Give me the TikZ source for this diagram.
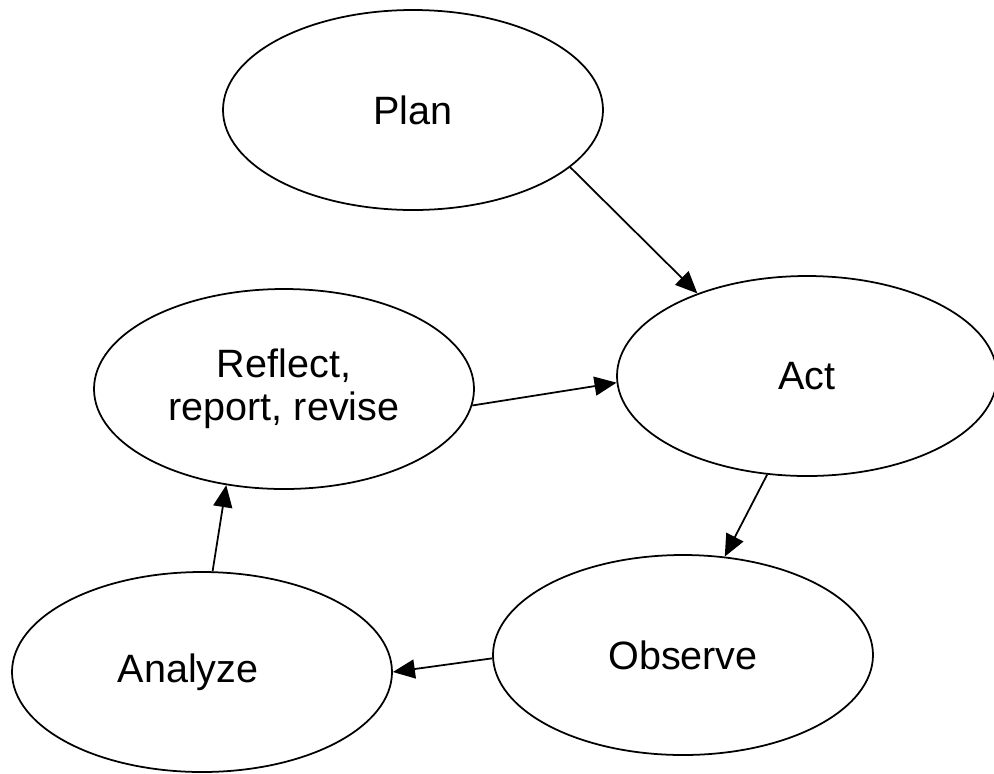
\documentclass[tikz,border=0pt]{standalone}
\usepackage{fontspec}
\setmainfont{Liberation Sans}
\usepackage{tikz}
\usetikzlibrary{arrows.meta,shapes.geometric}
\usetikzlibrary{positioning}
\tikzset{
    stage/.style={
           ellipse,
           draw=black, line width=1pt,
           minimum width=7.6cm,
           minimum height=4cm,
           inner sep=2pt,
           text centered,
           font=\fontsize{22.5}{24.5}\selectfont,
           text=black
           },
}

\begin{document}
\begin{tikzpicture}[->,>={Triangle[length=0.44cm,width=0.38cm]},line width=1pt]

\useasboundingbox (0,0) rectangle (19.88,-15.46);

\node[stage] (PLAN) at (8.26,-2.2) {Plan};

 % stage: doing it
\node[stage, yshift=-5.32cm, right of=PLAN, node distance=7.88cm, anchor=center] (ACT) {Act};

 % stage: looking back
\node[stage, yshift=-5.58cm, left of=PLAN, node distance=2.58cm, anchor=center, align=center] (REFLECT) {Reflect,\\report, revise};

\node[stage, yshift=-5.58cm, left of=ACT, node distance=2.48cm, anchor=center] (OBSERVE) {Observe};

\node[stage, yshift=-5.66cm, left of=REFLECT, node distance=1.64cm, anchor=center] (ANALYZE) {\hspace*{-0.56cm}Analyze};

\path (PLAN.-20)      edge (ACT.143)
(ACT.-112)     edge (OBSERVE.67)
(OBSERVE.181)  edge (ANALYZE.0)
(ANALYZE.84)   edge (REFLECT.-121)
(REFLECT.-5)   edge (ACT.182)
;

\end{tikzpicture}
\end{document}
